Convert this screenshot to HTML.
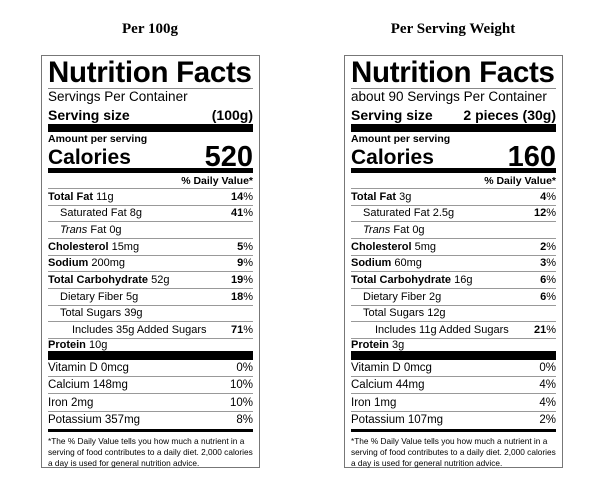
<!DOCTYPE html>
<html><head><style>
*{margin:0;padding:0;box-sizing:border-box}
body{width:605px;height:492px;background:#fff;position:relative;font-family:"Liberation Sans",Arial,sans-serif;color:#000;overflow:hidden}
.h{position:absolute;top:21px;font-family:"Liberation Serif",serif;font-weight:bold;font-size:15px;text-align:center;width:220px}
.box{position:absolute;top:55px;width:219px;height:413px;border:1px solid #777;padding:0 6px}
.r{display:flex;justify-content:space-between;align-items:center;white-space:nowrap}
.t{height:33px;font-size:29.5px;font-weight:bold;border-bottom:1px solid #888;line-height:33px;letter-spacing:-0.3px}
.sv{height:16px;font-size:13.5px;line-height:16px}
.ss{height:19px;font-size:14px;font-weight:bold}
.bar8{height:8px;background:#000}
.am{height:13px;font-size:10.5px;font-weight:bold;line-height:15px}
.cal{height:23px;font-weight:bold;padding-top:2px}
.cal span:first-child{font-size:21px}
.cal span:last-child{font-size:29px}
.bar5{height:5px;background:#000}
.dv{height:16px;font-size:10.5px;font-weight:bold;justify-content:flex-end;border-bottom:1px solid #999}
.n{height:16.67px;font-size:11px;border-bottom:1px solid #999}
.n.last{border-bottom:none}
.p{height:12px;font-size:11px}
.bar9{height:9px;background:#000}
.v{height:17.25px;font-size:11.5px;border-bottom:1px solid #999}
.v.last{border-bottom:none}
.bar3{height:3px;background:#000}
.f{font-size:8.3px;line-height:11px;padding-top:4px}
b{font-weight:bold}
.i1{padding-left:12px}.i2{padding-left:24px}
</style></head><body>
<div class="h" style="left:40px">Per 100g</div>
<div class="h" style="left:343px">Per Serving Weight</div>

<div class="box" style="left:41px">
<div class="t">Nutrition Facts</div>
<div class="sv">Servings Per Container</div>
<div class="r ss"><span>Serving size</span><span>(100g)</span></div>
<div class="bar8"></div>
<div class="am">Amount per serving</div>
<div class="r cal"><span>Calories</span><span>520</span></div>
<div class="bar5"></div>
<div class="r dv"><span>% Daily Value*</span></div>
<div class="r n"><span><b>Total Fat</b> 11g</span><span><b>14</b>%</span></div>
<div class="r n i1"><span>Saturated Fat 8g</span><span><b>41</b>%</span></div>
<div class="r n i1"><span><i>Trans</i> Fat 0g</span><span></span></div>
<div class="r n"><span><b>Cholesterol</b> 15mg</span><span><b>5</b>%</span></div>
<div class="r n"><span><b>Sodium</b> 200mg</span><span><b>9</b>%</span></div>
<div class="r n"><span><b>Total Carbohydrate</b> 52g</span><span><b>19</b>%</span></div>
<div class="r n i1"><span>Dietary Fiber 5g</span><span><b>18</b>%</span></div>
<div class="r n i1"><span>Total Sugars 39g</span><span></span></div>
<div class="r n i2"><span>Includes 35g Added Sugars</span><span><b>71</b>%</span></div>
<div class="r p"><span><b>Protein</b> 10g</span></div>
<div class="bar9"></div>
<div class="r v"><span>Vitamin D 0mcg</span><span>0%</span></div>
<div class="r v"><span>Calcium 148mg</span><span>10%</span></div>
<div class="r v"><span>Iron 2mg</span><span>10%</span></div>
<div class="r v last"><span>Potassium 357mg</span><span>8%</span></div>
<div class="bar3"></div>
<div class="f">*The % Daily Value tells you how much a nutrient in a serving of food contributes to a daily diet. 2,000 calories a day is used for general nutrition advice.</div>
</div>

<div class="box" style="left:344px">
<div class="t">Nutrition Facts</div>
<div class="sv">about 90 Servings Per Container</div>
<div class="r ss"><span>Serving size</span><span>2 pieces (30g)</span></div>
<div class="bar8"></div>
<div class="am">Amount per serving</div>
<div class="r cal"><span>Calories</span><span>160</span></div>
<div class="bar5"></div>
<div class="r dv"><span>% Daily Value*</span></div>
<div class="r n"><span><b>Total Fat</b> 3g</span><span><b>4</b>%</span></div>
<div class="r n i1"><span>Saturated Fat 2.5g</span><span><b>12</b>%</span></div>
<div class="r n i1"><span><i>Trans</i> Fat 0g</span><span></span></div>
<div class="r n"><span><b>Cholesterol</b> 5mg</span><span><b>2</b>%</span></div>
<div class="r n"><span><b>Sodium</b> 60mg</span><span><b>3</b>%</span></div>
<div class="r n"><span><b>Total Carbohydrate</b> 16g</span><span><b>6</b>%</span></div>
<div class="r n i1"><span>Dietary Fiber 2g</span><span><b>6</b>%</span></div>
<div class="r n i1"><span>Total Sugars 12g</span><span></span></div>
<div class="r n i2"><span>Includes 11g Added Sugars</span><span><b>21</b>%</span></div>
<div class="r p"><span><b>Protein</b> 3g</span></div>
<div class="bar9"></div>
<div class="r v"><span>Vitamin D 0mcg</span><span>0%</span></div>
<div class="r v"><span>Calcium 44mg</span><span>4%</span></div>
<div class="r v"><span>Iron 1mg</span><span>4%</span></div>
<div class="r v last"><span>Potassium 107mg</span><span>2%</span></div>
<div class="bar3"></div>
<div class="f">*The % Daily Value tells you how much a nutrient in a serving of food contributes to a daily diet. 2,000 calories a day is used for general nutrition advice.</div>
</div>
</body></html>
